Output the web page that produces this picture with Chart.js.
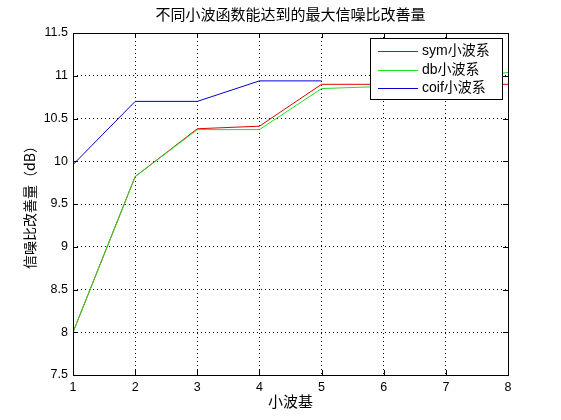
<!DOCTYPE html>
<html>
<head>
<meta charset="utf-8">
<script src="https://cdn.jsdelivr.net/npm/chart.js@4"></script>
<style>
  html, body { margin: 0; padding: 0; background: #fff; }
  #wrap { width: 561px; height: 420px; }
</style>
</head>
<body>
<div id="wrap"><canvas id="myChart" width="561" height="420"></canvas></div>
<script>
// wavelet order (x) and SNR gain for each wavelet family
const waveletOrder = [1, 2, 3, 4, 5, 6, 7, 8];
const symGain  = [8.0, 9.82, 10.38, 10.41, 10.90, 10.90, 10.90, 10.90];
const dbGain   = [8.0, 9.82, 10.37, 10.37, 10.85, 10.875, 10.93, 11.04];
const coifGain = [9.96, 10.70, 10.70, 10.94, 10.94];
const seriesNames = ['sym小波系', 'db小波系', 'coif小波系'];
const seriesColors = ['#e00000', '#22e022', '#0000d0'];
const yTicks = [7.5, 8, 8.5, 9, 9.5, 10, 10.5, 11, 11.5];
const chartTitle = '不同小波函数能达到的最大信噪比改善量';

const latin = "'Liberation Sans', 'Noto Sans CJK SC', sans-serif";
const cjk = "'Noto Sans CJK SC', 'Liberation Sans', sans-serif";

function toPoints(vals){
    return vals.map(function(v, i){ return {x: waveletOrder[i], y: v}; });
}

// title over the axes, frame, inward ticks and the legend box (MATLAB style)
const matlabBox = {
    id: 'matlabBox',
    afterDraw: function(chart){
        const ctx = chart.ctx;
        const a = chart.chartArea;
        const xs = chart.scales.x, ys = chart.scales.y;
        ctx.save();

        ctx.fillStyle = '#000';
        ctx.font = '15px ' + cjk;
        ctx.textAlign = 'center';
        ctx.textBaseline = 'middle';
        ctx.fillText(chartTitle, (a.left + a.right) / 2, 14);

        ctx.strokeStyle = '#000';
        ctx.lineWidth = 1;
        ctx.setLineDash([]);
        ctx.strokeRect(Math.round(a.left) + 0.5, Math.round(a.top) + 0.5,
                       Math.round(a.right - a.left), Math.round(a.bottom - a.top));
        ctx.beginPath();
        waveletOrder.forEach(function(v){
            const px = Math.round(xs.getPixelForValue(v)) + 0.5;
            ctx.moveTo(px, a.bottom); ctx.lineTo(px, a.bottom - 5);
            ctx.moveTo(px, a.top); ctx.lineTo(px, a.top + 5);
        });
        yTicks.forEach(function(v){
            const py = Math.round(ys.getPixelForValue(v)) + 0.5;
            ctx.moveTo(a.left, py); ctx.lineTo(a.left + 5, py);
            ctx.moveTo(a.right, py); ctx.lineTo(a.right - 5, py);
        });
        ctx.stroke();

        // legend
        const lx = 370.5, ly = 38.5, lw = 132, lh = 61;
        ctx.fillStyle = '#fff';
        ctx.fillRect(lx, ly, lw, lh);
        ctx.strokeRect(lx, ly, lw, lh);
        ctx.font = '14px ' + latin;
        ctx.textBaseline = 'middle';
        ctx.textAlign = 'left';
        seriesNames.forEach(function(name, i){
            const y = Math.round(51 + i * 18.5) + 0.5;
            ctx.strokeStyle = seriesColors[i];
            ctx.beginPath();
            ctx.moveTo(378, y); ctx.lineTo(418, y);
            ctx.stroke();
            ctx.fillStyle = '#000';
            ctx.fillText(name, 422, y);
        });
        ctx.restore();
    }
};

window.onload = function(){
    const data = {
        datasets: [
            {
            label: seriesNames[0],
            data: toPoints(symGain),
            borderColor: seriesColors[0],
            order: 3
            },
            {
            label: seriesNames[1],
            data: toPoints(dbGain),
            borderColor: seriesColors[1],
            order: 2
            },
            {
            label: seriesNames[2],
            data: toPoints(coifGain),
            borderColor: seriesColors[2],
            order: 1
            }
        ]
    };

    const gridStyle = {
        color: '#000',
        lineWidth: 1,
        drawTicks: false
    };

    const config = {
        type: 'line',
        data: data,
        options: {
            responsive: false,
            animation: false,
            layout: { padding: { left: 0, right: 53, top: 33, bottom: 0 } },
            elements: {
                line: { borderWidth: 1, tension: 0, fill: false },
                point: { radius: 0, hoverRadius: 0 }
            },
            plugins: {
                legend: { display: false },
                tooltip: { enabled: false },
                title: { display: false }
            },
            scales: {
                x: {
                    type: 'linear',
                    min: 1,
                    max: 8,
                    afterBuildTicks: function(s){ s.ticks = waveletOrder.map(function(v){ return {value: v}; }); },
                    afterFit: function(s){ s.height = 45; },
                    grid: gridStyle,
                    border: { display: false, dash: [1, 3] },
                    ticks: {
                        color: '#000',
                        padding: 5,
                        maxRotation: 0,
                        font: { family: latin, size: 12.5 }
                    },
                    title: {
                        display: true,
                        text: '小波基',
                        color: '#000',
                        font: { family: cjk, size: 15, lineHeight: 1.2 },
                        padding: { top: 0, bottom: 10 }
                    }
                },
                y: {
                    type: 'linear',
                    min: 7.5,
                    max: 11.5,
                    afterBuildTicks: function(s){ s.ticks = yTicks.map(function(v){ return {value: v}; }); },
                    afterFit: function(s){ s.width = 73; },
                    grid: gridStyle,
                    border: { display: false, dash: [1, 3] },
                    ticks: {
                        color: '#000',
                        padding: 5,
                        font: { family: latin, size: 12.5 },
                        callback: function(v){ return String(v); }
                    },
                    title: {
                        display: true,
                        text: '信噪比改善量（dB）',
                        color: '#000',
                        font: { family: cjk, size: 14, lineHeight: 1.2 },
                        padding: { top: 21, bottom: 0 }
                    }
                }
            }
        },
        plugins: [matlabBox]
    };

    const myChart = new Chart(
        document.getElementById('myChart'),
        config
    );
};
</script>
</body>
</html>
